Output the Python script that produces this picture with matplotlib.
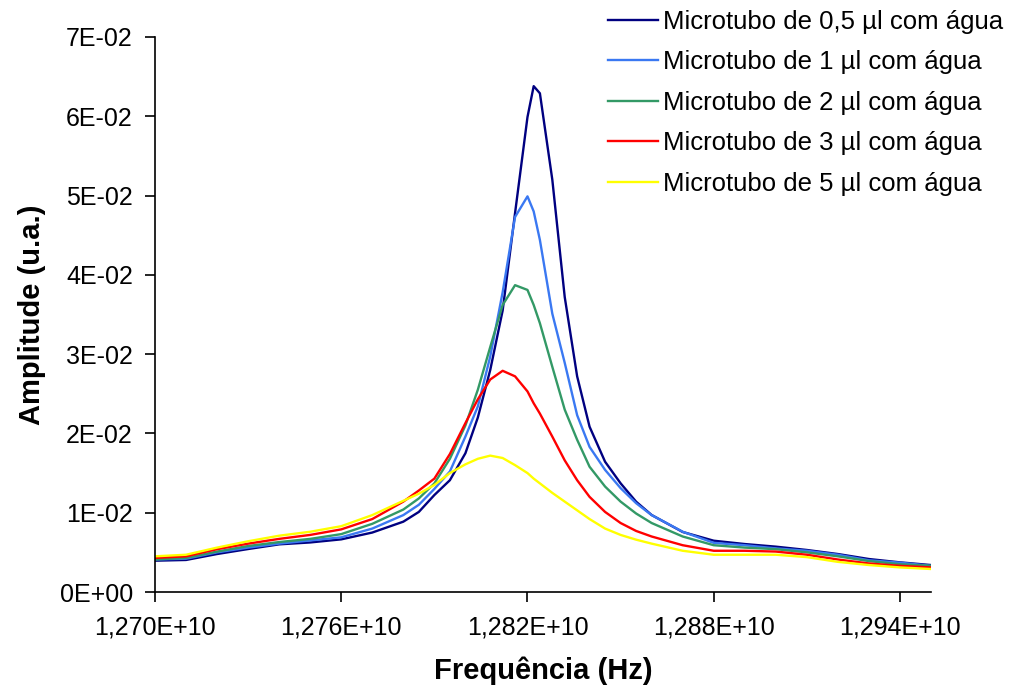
import matplotlib
matplotlib.use("Agg")
import matplotlib.pyplot as plt
from matplotlib.ticker import FuncFormatter, FixedLocator, MultipleLocator

plt.rcParams['font.family'] = ['Liberation Sans', 'DejaVu Sans']

# Frequency grid (in units of 1E+10 Hz)
freq_e10 = [1.2700, 1.2710, 1.2720, 1.2730, 1.2740, 1.2750, 1.2760, 1.2770, 1.2780,
            1.2785, 1.2790, 1.2795, 1.2800, 1.2804, 1.2808, 1.2812, 1.2816, 1.2820,
            1.2822, 1.2824, 1.2828, 1.2832, 1.2836, 1.2840, 1.2845, 1.2850, 1.2855,
            1.2860, 1.2870, 1.2880, 1.2890, 1.2900, 1.2910, 1.2920, 1.2930, 1.2940,
            1.2950]
freq = [f * 1e10 for f in freq_e10]

amp_05 = [0.00395, 0.00404, 0.00479, 0.00542, 0.00601, 0.00625, 0.00664, 0.0075, 0.00887,
          0.0101, 0.01223, 0.0141, 0.0175, 0.0220, 0.0280, 0.0355, 0.0478, 0.0599,
          0.0638, 0.0629, 0.0520, 0.0372, 0.0272, 0.02085, 0.01643, 0.01371, 0.01139,
          0.00971, 0.00757, 0.00647, 0.00605, 0.00572, 0.0053, 0.00479, 0.00416, 0.00374,
          0.0034]
amp_1 = [0.0041, 0.0042, 0.0050, 0.0056, 0.0061, 0.0065, 0.0069, 0.0080, 0.0097,
         0.0110, 0.0130, 0.0152, 0.0196, 0.0234, 0.0297, 0.0378, 0.0473, 0.0499,
         0.0480, 0.0444, 0.0351, 0.0289, 0.0223, 0.0183, 0.0154, 0.0131, 0.0112,
         0.0097, 0.0076, 0.0062, 0.0059, 0.0055, 0.0052, 0.0047, 0.0040, 0.0037,
         0.0033]
amp_2 = [0.0041, 0.0043, 0.0051, 0.0058, 0.0063, 0.0067, 0.0073, 0.0086, 0.0104,
         0.0118, 0.0137, 0.0168, 0.0210, 0.0255, 0.0309, 0.0362, 0.0387, 0.0381,
         0.0362, 0.0339, 0.0284, 0.0230, 0.0192, 0.0158, 0.0133, 0.0114, 0.0099,
         0.0087, 0.0070, 0.0059, 0.0056, 0.0054, 0.0050, 0.0045, 0.0039, 0.0035,
         0.0033]
amp_3 = [0.0043, 0.0045, 0.0054, 0.0061, 0.0067, 0.0072, 0.0079, 0.0092, 0.0114,
         0.0128, 0.0143, 0.0174, 0.0213, 0.0243, 0.0268, 0.0279, 0.0272, 0.0253,
         0.0238, 0.0225, 0.0196, 0.0166, 0.0141, 0.0120, 0.0101, 0.0087, 0.0077,
         0.0070, 0.0059, 0.0052, 0.0052, 0.0051, 0.0047, 0.0041, 0.0036, 0.0033,
         0.0031]
amp_5 = [0.0045, 0.0047, 0.0056, 0.0064, 0.0071, 0.0076, 0.0083, 0.0097, 0.0115,
         0.0124, 0.0135, 0.0150, 0.0161, 0.0168, 0.0172, 0.0169, 0.0160, 0.0150,
         0.0143, 0.0137, 0.0125, 0.0114, 0.0103, 0.0092, 0.0080, 0.0072, 0.0066,
         0.0061, 0.0052, 0.0047, 0.0047, 0.0047, 0.0044, 0.0038, 0.0034, 0.0031,
         0.0029]

xtick_e10 = [1.270, 1.276, 1.282, 1.288, 1.294]

labels = ["Microtubo de 0,5 µl com água", "Microtubo de 1 µl com água",
          "Microtubo de 2 µl com água", "Microtubo de 3 µl com água",
          "Microtubo de 5 µl com água"]
colors = ["#000080", "#3A78F2", "#339966", "#FF0000", "#FFFF00"]
series = [amp_05, amp_1, amp_2, amp_3, amp_5]

fig = plt.figure(figsize=(10.13, 6.85), dpi=100)
ax = fig.add_axes([155/1013, 1-592/685, (931-155)/1013, (592-37)/685])

for amp, c, lab in zip(series, colors, labels):
    ax.plot(freq, amp, color=c, lw=1.7, label=lab)

ax.set_xlim(1.270e10, 1.295e10)
ax.set_ylim(0, 0.07)
ax.xaxis.set_major_locator(FixedLocator([t * 1e10 for t in xtick_e10]))
ax.yaxis.set_major_locator(MultipleLocator(0.01))
ax.xaxis.set_major_formatter(FuncFormatter(lambda v, p: f"{v/1e10:.3f}E+10".replace('.', ',')))
ax.yaxis.set_major_formatter(FuncFormatter(lambda v, p: f"{v:.0E}"))

for s in ['top', 'right']:
    ax.spines[s].set_visible(False)
for s in ['left', 'bottom']:
    ax.spines[s].set_linewidth(1.2)
    ax.spines[s].set_color('black')
ax.tick_params(axis='both', direction='out', length=7, width=1.2, labelsize=18, colors='black')
ax.tick_params(axis='x', pad=10)
ax.tick_params(axis='y', pad=9)

ax.set_xlabel("Frequência (Hz)", fontsize=21, fontweight='bold', labelpad=12)
ax.set_ylabel("Amplitude (u.a.)", fontsize=21, fontweight='bold', labelpad=10)

fig.legend(loc='upper left', bbox_to_anchor=(608/1013, 1-10/685), bbox_transform=fig.transFigure,
           frameon=False, fontsize=18.5, handlelength=1.95, handletextpad=0.2,
           labelspacing=0.64, borderpad=0, borderaxespad=0)

fig.savefig("out.png", dpi=100)
